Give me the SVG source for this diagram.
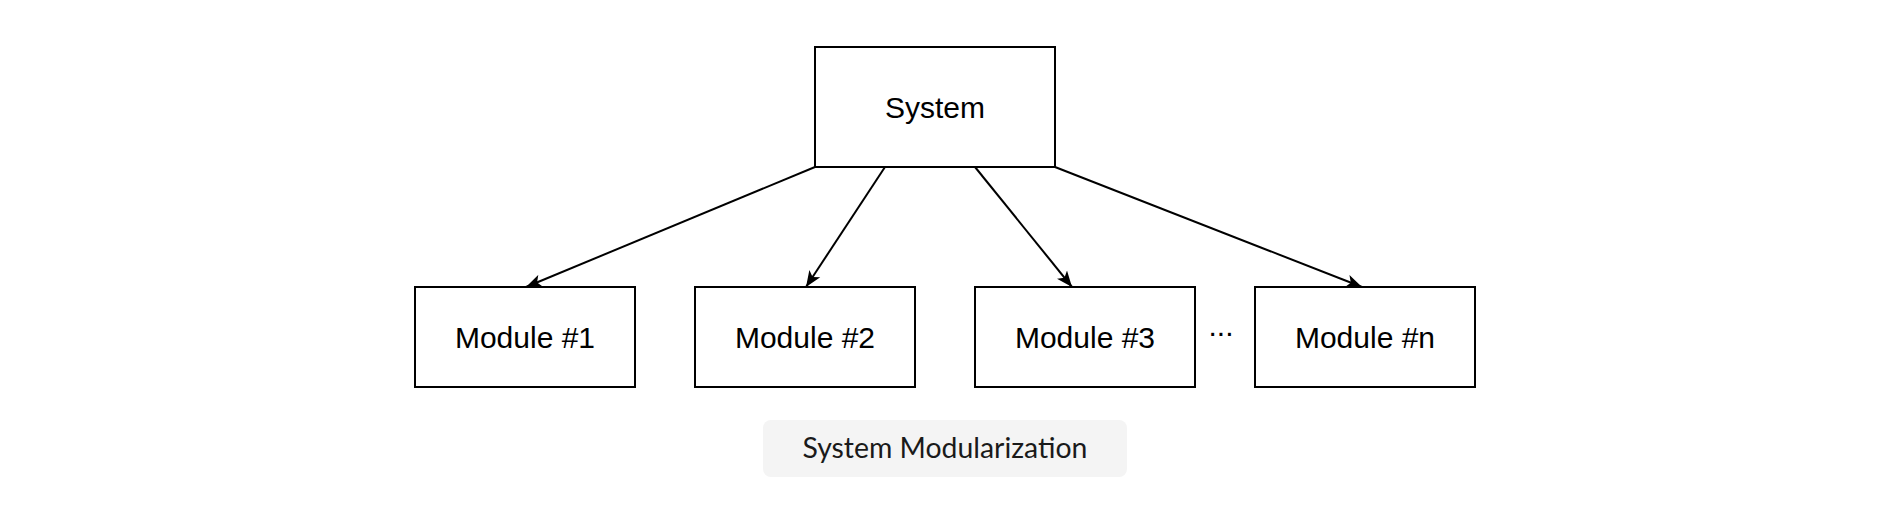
<svg xmlns="http://www.w3.org/2000/svg" width="1888" height="520" viewBox="0 0 1888 520">
  <style>
    .box { fill: #ffffff; stroke: #000000; stroke-width: 2; }
    .lbl { font-family: "Liberation Sans", Arial, Helvetica, sans-serif; font-size: 30px; fill: #000000; text-anchor: middle; }
    .edge { stroke: #000000; stroke-width: 2; fill: none; marker-end: url(#arr); }
    .cap { font-family: Lato, "Noto Sans", sans-serif; font-size: 28.4px; fill: #1a1a1a; text-anchor: middle; }
  </style>
  <defs>
    <marker id="arr" markerWidth="18" markerHeight="14" refX="16" refY="7" orient="auto" markerUnits="userSpaceOnUse">
      <path d="M16,7 L0,0.5 L4,7 L0,13.5 Z" fill="#000000"/>
    </marker>
  </defs>
  <rect width="1888" height="520" fill="#ffffff"/>

  <g id="system">
    <rect class="box" x="815" y="47" width="240" height="120"/>
    <text class="lbl" x="935" y="117.5">System</text>
  </g>
  <g id="module1">
    <rect class="box" x="415" y="287" width="220" height="100"/>
    <text class="lbl" x="525" y="347.5">Module #1</text>
  </g>
  <g id="module2">
    <rect class="box" x="695" y="287" width="220" height="100"/>
    <text class="lbl" x="805" y="347.5">Module #2</text>
  </g>
  <g id="module3">
    <rect class="box" x="975" y="287" width="220" height="100"/>
    <text class="lbl" x="1085" y="347.5">Module #3</text>
  </g>
  <g id="modulen">
    <rect class="box" x="1255" y="287" width="220" height="100"/>
    <text class="lbl" x="1365" y="347.5">Module #n</text>
  </g>
  <g id="ellipsis">
    <text class="lbl" x="1221" y="336">...</text>
  </g>

  <g id="connectors">
    <line class="edge" x1="815" y1="167" x2="526" y2="287"/>
    <line class="edge" x1="885" y1="167" x2="806" y2="287"/>
    <line class="edge" x1="975" y1="167" x2="1072" y2="287"/>
    <line class="edge" x1="1055" y1="167" x2="1362" y2="287"/>
  </g>

  <g id="caption">
    <rect x="763" y="420" width="364" height="57" rx="8" ry="8" fill="#f4f4f4"/>
    <text class="cap" x="945" y="457.5">System Modularization</text>
  </g>
</svg>
